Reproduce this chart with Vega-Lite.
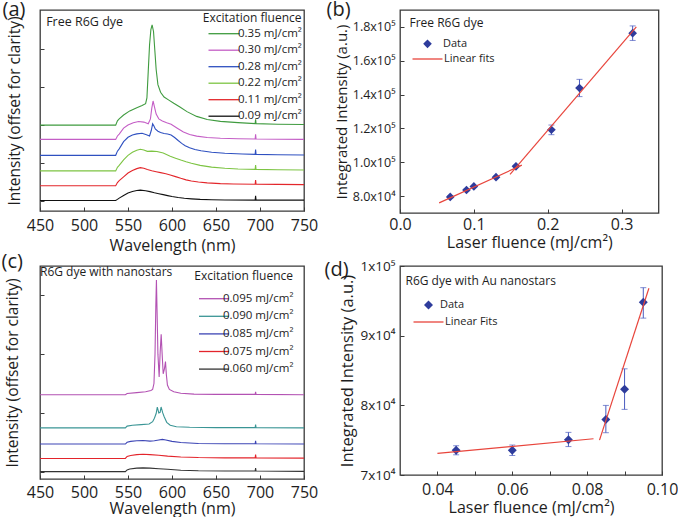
{
"$schema": "https://vega.github.io/schema/vega-lite/v6.json",
"padding": {"left": 0, "top": -2, "right": 0, "bottom": 0},
"config": {
  "font": "Open Sans",
  "view": {"stroke": "#3a3a3a", "strokeWidth": 1.3},
  "axis": {"domain": false, "grid": false, "tickSize": -4, "tickColor": "#3a3a3a", "tickWidth": 1, "labelColor": "#1e1e1e", "titleColor": "#1e1e1e", "titleFontWeight": "normal", "labelFlush": false, "labelOverlap": false},
  "legend": {"padding": 0, "titleFontWeight": "normal", "titleColor": "#1e1e1e", "labelColor": "#1e1e1e"},
  "title": {"fontWeight": "normal", "color": "#1e1e1e"}
},
"datasets": {
  "specA": [
    {"s":"0.35 mJ/cm²","w":450,"v":3.97},{"s":"0.35 mJ/cm²","w":500,"v":3.97},{"s":"0.35 mJ/cm²","w":536,"v":3.97},{"s":"0.35 mJ/cm²","w":538,"v":4.2},{"s":"0.35 mJ/cm²","w":540,"v":4.3},{"s":"0.35 mJ/cm²","w":545,"v":4.5},{"s":"0.35 mJ/cm²","w":552,"v":4.72},{"s":"0.35 mJ/cm²","w":560,"v":4.89},{"s":"0.35 mJ/cm²","w":566,"v":5.0},{"s":"0.35 mJ/cm²","w":570,"v":5.1},{"s":"0.35 mJ/cm²","w":571.5,"v":5.4},{"s":"0.35 mJ/cm²","w":573,"v":6.8},{"s":"0.35 mJ/cm²","w":574.5,"v":8.2},{"s":"0.35 mJ/cm²","w":576,"v":9.0},{"s":"0.35 mJ/cm²","w":577.4,"v":9.25},{"s":"0.35 mJ/cm²","w":579,"v":8.9},{"s":"0.35 mJ/cm²","w":580.5,"v":7.9},{"s":"0.35 mJ/cm²","w":582,"v":6.9},{"s":"0.35 mJ/cm²","w":584,"v":6.1},{"s":"0.35 mJ/cm²","w":587,"v":5.7},{"s":"0.35 mJ/cm²","w":591,"v":5.45},{"s":"0.35 mJ/cm²","w":596,"v":5.3},{"s":"0.35 mJ/cm²","w":602,"v":5.12},{"s":"0.35 mJ/cm²","w":609,"v":4.92},{"s":"0.35 mJ/cm²","w":617,"v":4.68},{"s":"0.35 mJ/cm²","w":628,"v":4.43},{"s":"0.35 mJ/cm²","w":640,"v":4.27},{"s":"0.35 mJ/cm²","w":655,"v":4.17},{"s":"0.35 mJ/cm²","w":675,"v":4.1},{"s":"0.35 mJ/cm²","w":694.5,"v":4.05},{"s":"0.35 mJ/cm²","w":695,"v":4.28},{"s":"0.35 mJ/cm²","w":695.5,"v":4.05},{"s":"0.35 mJ/cm²","w":720,"v":4.02},{"s":"0.35 mJ/cm²","w":750,"v":4.0},
    {"s":"0.30 mJ/cm²","w":450,"v":3.22},{"s":"0.30 mJ/cm²","w":500,"v":3.22},{"s":"0.30 mJ/cm²","w":536,"v":3.22},{"s":"0.30 mJ/cm²","w":538,"v":3.4},{"s":"0.30 mJ/cm²","w":540,"v":3.5},{"s":"0.30 mJ/cm²","w":545,"v":3.81},{"s":"0.30 mJ/cm²","w":550,"v":3.98},{"s":"0.30 mJ/cm²","w":556,"v":4.1},{"s":"0.30 mJ/cm²","w":562,"v":4.16},{"s":"0.30 mJ/cm²","w":568,"v":4.13},{"s":"0.30 mJ/cm²","w":573,"v":4.04},{"s":"0.30 mJ/cm²","w":575.5,"v":4.3},{"s":"0.30 mJ/cm²","w":577,"v":4.85},{"s":"0.30 mJ/cm²","w":578.5,"v":5.24},{"s":"0.30 mJ/cm²","w":580,"v":4.95},{"s":"0.30 mJ/cm²","w":582,"v":4.55},{"s":"0.30 mJ/cm²","w":585,"v":4.3},{"s":"0.30 mJ/cm²","w":589,"v":4.19},{"s":"0.30 mJ/cm²","w":594,"v":4.1},{"s":"0.30 mJ/cm²","w":599,"v":4.02},{"s":"0.30 mJ/cm²","w":606,"v":3.81},{"s":"0.30 mJ/cm²","w":613,"v":3.61},{"s":"0.30 mJ/cm²","w":620,"v":3.48},{"s":"0.30 mJ/cm²","w":628,"v":3.39},{"s":"0.30 mJ/cm²","w":640,"v":3.32},{"s":"0.30 mJ/cm²","w":655,"v":3.28},{"s":"0.30 mJ/cm²","w":675,"v":3.25},{"s":"0.30 mJ/cm²","w":694.5,"v":3.24},{"s":"0.30 mJ/cm²","w":695,"v":3.49},{"s":"0.30 mJ/cm²","w":695.5,"v":3.24},{"s":"0.30 mJ/cm²","w":720,"v":3.23},{"s":"0.30 mJ/cm²","w":750,"v":3.22},
    {"s":"0.28 mJ/cm²","w":450,"v":2.38},{"s":"0.28 mJ/cm²","w":500,"v":2.38},{"s":"0.28 mJ/cm²","w":536,"v":2.38},{"s":"0.28 mJ/cm²","w":538,"v":2.6},{"s":"0.28 mJ/cm²","w":540,"v":2.72},{"s":"0.28 mJ/cm²","w":545,"v":3.1},{"s":"0.28 mJ/cm²","w":550,"v":3.33},{"s":"0.28 mJ/cm²","w":555,"v":3.45},{"s":"0.28 mJ/cm²","w":560,"v":3.51},{"s":"0.28 mJ/cm²","w":566,"v":3.54},{"s":"0.28 mJ/cm²","w":571,"v":3.46},{"s":"0.28 mJ/cm²","w":574.5,"v":3.4},{"s":"0.28 mJ/cm²","w":576.5,"v":3.7},{"s":"0.28 mJ/cm²","w":578,"v":4.04},{"s":"0.28 mJ/cm²","w":579.5,"v":3.92},{"s":"0.28 mJ/cm²","w":581,"v":3.77},{"s":"0.28 mJ/cm²","w":584,"v":3.65},{"s":"0.28 mJ/cm²","w":587,"v":3.58},{"s":"0.28 mJ/cm²","w":591,"v":3.53},{"s":"0.28 mJ/cm²","w":595,"v":3.5},{"s":"0.28 mJ/cm²","w":599,"v":3.45},{"s":"0.28 mJ/cm²","w":603,"v":3.32},{"s":"0.28 mJ/cm²","w":607,"v":3.16},{"s":"0.28 mJ/cm²","w":611,"v":3.01},{"s":"0.28 mJ/cm²","w":615,"v":2.89},{"s":"0.28 mJ/cm²","w":620,"v":2.78},{"s":"0.28 mJ/cm²","w":626,"v":2.69},{"s":"0.28 mJ/cm²","w":633,"v":2.62},{"s":"0.28 mJ/cm²","w":645,"v":2.54},{"s":"0.28 mJ/cm²","w":660,"v":2.49},{"s":"0.28 mJ/cm²","w":680,"v":2.45},{"s":"0.28 mJ/cm²","w":694.5,"v":2.43},{"s":"0.28 mJ/cm²","w":695,"v":2.68},{"s":"0.28 mJ/cm²","w":695.5,"v":2.43},{"s":"0.28 mJ/cm²","w":720,"v":2.41},{"s":"0.28 mJ/cm²","w":750,"v":2.4},
    {"s":"0.22 mJ/cm²","w":450,"v":1.56},{"s":"0.22 mJ/cm²","w":500,"v":1.56},{"s":"0.22 mJ/cm²","w":536,"v":1.56},{"s":"0.22 mJ/cm²","w":538,"v":1.75},{"s":"0.22 mJ/cm²","w":540,"v":1.85},{"s":"0.22 mJ/cm²","w":545,"v":2.14},{"s":"0.22 mJ/cm²","w":550,"v":2.38},{"s":"0.22 mJ/cm²","w":555,"v":2.54},{"s":"0.22 mJ/cm²","w":560,"v":2.65},{"s":"0.22 mJ/cm²","w":564,"v":2.7},{"s":"0.22 mJ/cm²","w":568,"v":2.66},{"s":"0.22 mJ/cm²","w":572,"v":2.59},{"s":"0.22 mJ/cm²","w":577,"v":2.6},{"s":"0.22 mJ/cm²","w":583,"v":2.58},{"s":"0.22 mJ/cm²","w":590,"v":2.5},{"s":"0.22 mJ/cm²","w":598,"v":2.33},{"s":"0.22 mJ/cm²","w":604,"v":2.23},{"s":"0.22 mJ/cm²","w":610,"v":2.13},{"s":"0.22 mJ/cm²","w":616,"v":2.04},{"s":"0.22 mJ/cm²","w":622,"v":1.96},{"s":"0.22 mJ/cm²","w":632,"v":1.85},{"s":"0.22 mJ/cm²","w":645,"v":1.76},{"s":"0.22 mJ/cm²","w":660,"v":1.7},{"s":"0.22 mJ/cm²","w":675,"v":1.66},{"s":"0.22 mJ/cm²","w":694.5,"v":1.64},{"s":"0.22 mJ/cm²","w":695,"v":1.87},{"s":"0.22 mJ/cm²","w":695.5,"v":1.64},{"s":"0.22 mJ/cm²","w":720,"v":1.62},{"s":"0.22 mJ/cm²","w":750,"v":1.61},
    {"s":"0.11 mJ/cm²","w":450,"v":0.78},{"s":"0.11 mJ/cm²","w":500,"v":0.78},{"s":"0.11 mJ/cm²","w":536,"v":0.78},{"s":"0.11 mJ/cm²","w":538,"v":0.95},{"s":"0.11 mJ/cm²","w":540,"v":1.05},{"s":"0.11 mJ/cm²","w":545,"v":1.25},{"s":"0.11 mJ/cm²","w":550,"v":1.45},{"s":"0.11 mJ/cm²","w":555,"v":1.58},{"s":"0.11 mJ/cm²","w":560,"v":1.68},{"s":"0.11 mJ/cm²","w":564,"v":1.73},{"s":"0.11 mJ/cm²","w":568,"v":1.7},{"s":"0.11 mJ/cm²","w":572,"v":1.63},{"s":"0.11 mJ/cm²","w":577,"v":1.57},{"s":"0.11 mJ/cm²","w":582,"v":1.52},{"s":"0.11 mJ/cm²","w":587,"v":1.47},{"s":"0.11 mJ/cm²","w":593,"v":1.41},{"s":"0.11 mJ/cm²","w":598,"v":1.35},{"s":"0.11 mJ/cm²","w":604,"v":1.26},{"s":"0.11 mJ/cm²","w":610,"v":1.17},{"s":"0.11 mJ/cm²","w":616,"v":1.09},{"s":"0.11 mJ/cm²","w":622,"v":1.03},{"s":"0.11 mJ/cm²","w":630,"v":0.98},{"s":"0.11 mJ/cm²","w":640,"v":0.93},{"s":"0.11 mJ/cm²","w":655,"v":0.89},{"s":"0.11 mJ/cm²","w":670,"v":0.87},{"s":"0.11 mJ/cm²","w":694.5,"v":0.86},{"s":"0.11 mJ/cm²","w":695,"v":1.08},{"s":"0.11 mJ/cm²","w":695.5,"v":0.86},{"s":"0.11 mJ/cm²","w":720,"v":0.85},{"s":"0.11 mJ/cm²","w":750,"v":0.84},
    {"s":"0.09 mJ/cm²","w":450,"v":0},{"s":"0.09 mJ/cm²","w":500,"v":0},{"s":"0.09 mJ/cm²","w":536,"v":0},{"s":"0.09 mJ/cm²","w":538,"v":0.06},{"s":"0.09 mJ/cm²","w":540,"v":0.13},{"s":"0.09 mJ/cm²","w":545,"v":0.27},{"s":"0.09 mJ/cm²","w":550,"v":0.4},{"s":"0.09 mJ/cm²","w":555,"v":0.48},{"s":"0.09 mJ/cm²","w":560,"v":0.53},{"s":"0.09 mJ/cm²","w":564,"v":0.55},{"s":"0.09 mJ/cm²","w":570,"v":0.52},{"s":"0.09 mJ/cm²","w":575,"v":0.47},{"s":"0.09 mJ/cm²","w":580,"v":0.41},{"s":"0.09 mJ/cm²","w":585,"v":0.36},{"s":"0.09 mJ/cm²","w":590,"v":0.31},{"s":"0.09 mJ/cm²","w":595,"v":0.26},{"s":"0.09 mJ/cm²","w":600,"v":0.21},{"s":"0.09 mJ/cm²","w":607,"v":0.16},{"s":"0.09 mJ/cm²","w":614,"v":0.12},{"s":"0.09 mJ/cm²","w":622,"v":0.09},{"s":"0.09 mJ/cm²","w":632,"v":0.06},{"s":"0.09 mJ/cm²","w":645,"v":0.04},{"s":"0.09 mJ/cm²","w":660,"v":0.03},{"s":"0.09 mJ/cm²","w":694.5,"v":0.02},{"s":"0.09 mJ/cm²","w":695,"v":0.25},{"s":"0.09 mJ/cm²","w":695.5,"v":0.02},{"s":"0.09 mJ/cm²","w":750,"v":0.02}
  ],
  "specC": [
    {"s":"0.095 mJ/cm²","w":450,"v":2.62},{"s":"0.095 mJ/cm²","w":500,"v":2.62},{"s":"0.095 mJ/cm²","w":547,"v":2.62},{"s":"0.095 mJ/cm²","w":549,"v":2.66},{"s":"0.095 mJ/cm²","w":560,"v":2.69},{"s":"0.095 mJ/cm²","w":570,"v":2.72},{"s":"0.095 mJ/cm²","w":576,"v":2.76},{"s":"0.095 mJ/cm²","w":578,"v":2.8},{"s":"0.095 mJ/cm²","w":579.5,"v":3.0},{"s":"0.095 mJ/cm²","w":580.7,"v":4.0},{"s":"0.095 mJ/cm²","w":581.6,"v":5.6},{"s":"0.095 mJ/cm²","w":582.3,"v":6.52},{"s":"0.095 mJ/cm²","w":583,"v":5.5},{"s":"0.095 mJ/cm²","w":584,"v":4.0},{"s":"0.095 mJ/cm²","w":585.4,"v":3.22},{"s":"0.095 mJ/cm²","w":586.6,"v":4.1},{"s":"0.095 mJ/cm²","w":587.7,"v":4.68},{"s":"0.095 mJ/cm²","w":588.8,"v":4.0},{"s":"0.095 mJ/cm²","w":590,"v":3.33},{"s":"0.095 mJ/cm²","w":591.4,"v":3.5},{"s":"0.095 mJ/cm²","w":592.6,"v":3.75},{"s":"0.095 mJ/cm²","w":593.6,"v":3.3},{"s":"0.095 mJ/cm²","w":594.8,"v":2.95},{"s":"0.095 mJ/cm²","w":597,"v":2.8},{"s":"0.095 mJ/cm²","w":602,"v":2.72},{"s":"0.095 mJ/cm²","w":610,"v":2.67},{"s":"0.095 mJ/cm²","w":625,"v":2.64},{"s":"0.095 mJ/cm²","w":650,"v":2.63},{"s":"0.095 mJ/cm²","w":694.5,"v":2.63},{"s":"0.095 mJ/cm²","w":695,"v":2.72},{"s":"0.095 mJ/cm²","w":695.5,"v":2.63},{"s":"0.095 mJ/cm²","w":750,"v":2.62},
    {"s":"0.090 mJ/cm²","w":450,"v":1.49},{"s":"0.090 mJ/cm²","w":500,"v":1.49},{"s":"0.090 mJ/cm²","w":547,"v":1.49},{"s":"0.090 mJ/cm²","w":549,"v":1.55},{"s":"0.090 mJ/cm²","w":555,"v":1.58},{"s":"0.090 mJ/cm²","w":565,"v":1.6},{"s":"0.090 mJ/cm²","w":574,"v":1.62},{"s":"0.090 mJ/cm²","w":578,"v":1.7},{"s":"0.090 mJ/cm²","w":580,"v":1.82},{"s":"0.090 mJ/cm²","w":582,"v":1.98},{"s":"0.090 mJ/cm²","w":583.3,"v":2.2},{"s":"0.090 mJ/cm²","w":585,"v":2.0},{"s":"0.090 mJ/cm²","w":586.5,"v":2.02},{"s":"0.090 mJ/cm²","w":587.6,"v":2.2},{"s":"0.090 mJ/cm²","w":589.5,"v":2.0},{"s":"0.090 mJ/cm²","w":591,"v":1.88},{"s":"0.090 mJ/cm²","w":594,"v":1.68},{"s":"0.090 mJ/cm²","w":598,"v":1.58},{"s":"0.090 mJ/cm²","w":605,"v":1.53},{"s":"0.090 mJ/cm²","w":620,"v":1.51},{"s":"0.090 mJ/cm²","w":650,"v":1.5},{"s":"0.090 mJ/cm²","w":694.5,"v":1.5},{"s":"0.090 mJ/cm²","w":695,"v":1.6},{"s":"0.090 mJ/cm²","w":695.5,"v":1.5},{"s":"0.090 mJ/cm²","w":750,"v":1.49},
    {"s":"0.085 mJ/cm²","w":450,"v":0.94},{"s":"0.085 mJ/cm²","w":500,"v":0.94},{"s":"0.085 mJ/cm²","w":547,"v":0.94},{"s":"0.085 mJ/cm²","w":549,"v":1.0},{"s":"0.085 mJ/cm²","w":553,"v":1.03},{"s":"0.085 mJ/cm²","w":560,"v":1.05},{"s":"0.085 mJ/cm²","w":567,"v":1.06},{"s":"0.085 mJ/cm²","w":575,"v":1.04},{"s":"0.085 mJ/cm²","w":580,"v":1.05},{"s":"0.085 mJ/cm²","w":585,"v":1.08},{"s":"0.085 mJ/cm²","w":589,"v":1.1},{"s":"0.085 mJ/cm²","w":593,"v":1.08},{"s":"0.085 mJ/cm²","w":600,"v":1.03},{"s":"0.085 mJ/cm²","w":610,"v":0.99},{"s":"0.085 mJ/cm²","w":630,"v":0.96},{"s":"0.085 mJ/cm²","w":660,"v":0.95},{"s":"0.085 mJ/cm²","w":694.5,"v":0.95},{"s":"0.085 mJ/cm²","w":695,"v":1.05},{"s":"0.085 mJ/cm²","w":695.5,"v":0.95},{"s":"0.085 mJ/cm²","w":750,"v":0.94},
    {"s":"0.075 mJ/cm²","w":450,"v":0.45},{"s":"0.075 mJ/cm²","w":500,"v":0.45},{"s":"0.075 mJ/cm²","w":547,"v":0.45},{"s":"0.075 mJ/cm²","w":549,"v":0.52},{"s":"0.075 mJ/cm²","w":553,"v":0.55},{"s":"0.075 mJ/cm²","w":560,"v":0.58},{"s":"0.075 mJ/cm²","w":567,"v":0.59},{"s":"0.075 mJ/cm²","w":575,"v":0.58},{"s":"0.075 mJ/cm²","w":585,"v":0.56},{"s":"0.075 mJ/cm²","w":595,"v":0.53},{"s":"0.075 mJ/cm²","w":610,"v":0.5},{"s":"0.075 mJ/cm²","w":630,"v":0.48},{"s":"0.075 mJ/cm²","w":660,"v":0.47},{"s":"0.075 mJ/cm²","w":694.5,"v":0.47},{"s":"0.075 mJ/cm²","w":695,"v":0.58},{"s":"0.075 mJ/cm²","w":695.5,"v":0.47},{"s":"0.075 mJ/cm²","w":750,"v":0.46},
    {"s":"0.060 mJ/cm²","w":450,"v":0},{"s":"0.060 mJ/cm²","w":500,"v":0},{"s":"0.060 mJ/cm²","w":547,"v":0},{"s":"0.060 mJ/cm²","w":549,"v":0.06},{"s":"0.060 mJ/cm²","w":552,"v":0.09},{"s":"0.060 mJ/cm²","w":560,"v":0.12},{"s":"0.060 mJ/cm²","w":567,"v":0.13},{"s":"0.060 mJ/cm²","w":575,"v":0.12},{"s":"0.060 mJ/cm²","w":585,"v":0.1},{"s":"0.060 mJ/cm²","w":595,"v":0.08},{"s":"0.060 mJ/cm²","w":610,"v":0.05},{"s":"0.060 mJ/cm²","w":630,"v":0.03},{"s":"0.060 mJ/cm²","w":660,"v":0.02},{"s":"0.060 mJ/cm²","w":694.5,"v":0.02},{"s":"0.060 mJ/cm²","w":695,"v":0.12},{"s":"0.060 mJ/cm²","w":695.5,"v":0.02},{"s":"0.060 mJ/cm²","w":750,"v":0.01}
  ],
  "ptsB": [
    {"x":0.068,"y":79500,"lo":78900,"hi":80100,"series":"Data"},
    {"x":0.090,"y":83600,"lo":83000,"hi":84200,"series":"Data"},
    {"x":0.100,"y":85700,"lo":85100,"hi":86300,"series":"Data"},
    {"x":0.130,"y":91200,"lo":90600,"hi":91800,"series":"Data"},
    {"x":0.157,"y":97600,"lo":97000,"hi":98200,"series":"Data"},
    {"x":0.205,"y":119200,"lo":116300,"hi":122000,"series":"Data"},
    {"x":0.243,"y":143900,"lo":138800,"hi":149000,"series":"Data"},
    {"x":0.315,"y":176300,"lo":172000,"hi":180600,"series":"Data"}
  ],
  "fitB": [
    {"fit":1,"x":0.053,"y":76000,"series":"Linear fits"},{"fit":1,"x":0.165,"y":98300,"series":"Linear fits"},
    {"fit":2,"x":0.149,"y":92800,"series":"Linear fits"},{"fit":2,"x":0.320,"y":180000,"series":"Linear fits"}
  ],
  "ptsD": [
    {"x":0.045,"y":73540,"lo":72900,"hi":74200,"series":"Data"},
    {"x":0.060,"y":73540,"lo":72800,"hi":74300,"series":"Data"},
    {"x":0.075,"y":75050,"lo":74080,"hi":76120,"series":"Data"},
    {"x":0.085,"y":77960,"lo":76070,"hi":79990,"series":"Data"},
    {"x":0.090,"y":82300,"lo":79420,"hi":85240,"series":"Data"},
    {"x":0.095,"y":94800,"lo":92520,"hi":96890,"series":"Data"}
  ],
  "fitD": [
    {"fit":1,"x":0.040,"y":73100,"series":"Linear Fits"},{"fit":1,"x":0.0817,"y":75200,"series":"Linear Fits"},
    {"fit":2,"x":0.0833,"y":75000,"series":"Linear Fits"},{"fit":2,"x":0.0965,"y":96800,"series":"Linear Fits"}
  ]
},
"columns": 2,
"bounds": "flush",
"align": "each",
"spacing": {"row": 53, "column": 96},
"resolve": {"scale": {"color": "independent", "fill": "independent", "stroke": "independent", "x": "independent", "y": "independent"}, "legend": {"color": "independent", "fill": "independent", "stroke": "independent"}},
"concat": [
  {
    "width": 264, "height": 201,
    "title": {"text": "(a)", "fontSize": 20, "anchor": "start", "frame": "group", "offset": 0, "baseline": "top", "dx": -37.5, "dy": 9.5},
    "layer": [
      {"data": {"name": "specA"},
       "mark": {"type": "line", "strokeWidth": 1.1, "clip": true},
       "encoding": {
         "x": {"field": "w", "type": "quantitative", "scale": {"domain": [450, 750], "nice": false, "zero": false},
               "axis": {"title": "Wavelength (nm)", "values": [450,475,500,525,550,575,600,625,650,675,700,725,750], "labelExpr": "datum.value % 50 == 0 ? datum.label : ''", "labelOverlap": false, "labelFontSize": 16, "titleFontSize": 16, "labelPadding": 10, "titlePadding": 4}},
         "y": {"field": "v", "type": "quantitative", "scale": {"domain": [-0.55, 10.03], "nice": false, "zero": false},
               "axis": {"title": "Intensity (offset for clarity)", "labels": false, "values": [0,1,2,3,4,5,6,7,8,9], "titleFontSize": 15.5, "titlePadding": 17}},
         "color": {"field": "s", "type": "nominal",
                   "scale": {"domain": ["0.35 mJ/cm²","0.30 mJ/cm²","0.28 mJ/cm²","0.22 mJ/cm²","0.11 mJ/cm²","0.09 mJ/cm²"], "range": ["#3f9b3f","#c45ec6","#2e50c0","#7dc443","#e3262b","#111111"]},
                   "legend": {"title": "Excitation fluence", "orient": "none", "legendX": 162.5, "legendY": 3.3, "titleAnchor": "end", "symbolType": "M-3.1,0H3.1", "symbolSize": 100, "symbolStrokeWidth": 1.3, "symbolOffset": 9.5, "labelOffset": 8, "labelFontSize": 11.5, "titleFontSize": 12, "titlePadding": 2.4, "rowPadding": 4.5}}
       }},
      {"data": {"values": [{}]},
       "mark": {"type": "text", "align": "left", "baseline": "top", "fontSize": 12.5, "color": "#1e1e1e"},
       "encoding": {"x": {"datum": 457}, "y": {"datum": 9.69}, "text": {"value": "Free R6G dye"}}}
    ]
  },
  {
    "width": 258.5, "height": 203,
    "title": {"text": "(b)", "fontSize": 20, "anchor": "start", "frame": "group", "offset": 0, "baseline": "top", "dx": -73.5, "dy": 9.5},
    "layer": [
      {"data": {"name": "ptsB"},
       "mark": {"type": "errorbar", "ticks": {"size": 6}, "color": "#4a5bbf", "thickness": 1},
       "encoding": {
         "x": {"field": "x", "type": "quantitative", "scale": {"domain": [0, 0.35], "nice": false, "zero": false},
               "axis": {"title": "Laser fluence (mJ/cm²)", "values": [0,0.05,0.1,0.15,0.2,0.25,0.3,0.35], "labelExpr": "round(datum.value*100) % 10 == 0 ? format(datum.value, '.1f') : ''", "labelOverlap": false, "labelFontSize": 16, "titleFontSize": 16, "labelPadding": 7, "titlePadding": 2}},
         "y": {"field": "lo", "type": "quantitative", "scale": {"domain": [70000, 190000], "nice": false, "zero": false},
               "axis": {"title": "Integrated Intensity (a.u.)", "values": [80000,90000,100000,110000,120000,130000,140000,150000,160000,170000,180000,190000], "labelExpr": "datum.value == 80000 ? '8.0x10⁴' : datum.value == 100000 ? '1.0x10⁵' : datum.value == 120000 ? '1.2x10⁵' : datum.value == 140000 ? '1.4x10⁵' : datum.value == 160000 ? '1.6x10⁵' : datum.value == 180000 ? '1.8x10⁵' : ''", "labelOverlap": false, "labelFontSize": 12.5, "titleFontSize": 15, "labelPadding": 9, "titlePadding": 3}},
         "y2": {"field": "hi"}
       }},
      {"data": {"name": "ptsB"},
       "mark": {"type": "point", "shape": "diamond", "filled": true, "size": 75, "opacity": 1},
       "encoding": {
         "x": {"field": "x", "type": "quantitative", "scale": {"domain": [0, 0.35], "nice": false, "zero": false},
               "axis": {"title": "Laser fluence (mJ/cm²)", "values": [0,0.05,0.1,0.15,0.2,0.25,0.3,0.35], "labelExpr": "round(datum.value*100) % 10 == 0 ? format(datum.value, '.1f') : ''", "labelOverlap": false, "labelFontSize": 16, "titleFontSize": 16, "labelPadding": 7, "titlePadding": 2}},
         "y": {"field": "y", "type": "quantitative", "scale": {"domain": [70000, 190000], "nice": false, "zero": false},
               "axis": {"title": "Integrated Intensity (a.u.)", "values": [80000,90000,100000,110000,120000,130000,140000,150000,160000,170000,180000,190000], "labelExpr": "datum.value == 80000 ? '8.0x10⁴' : datum.value == 100000 ? '1.0x10⁵' : datum.value == 120000 ? '1.2x10⁵' : datum.value == 140000 ? '1.4x10⁵' : datum.value == 160000 ? '1.6x10⁵' : datum.value == 180000 ? '1.8x10⁵' : ''", "labelOverlap": false, "labelFontSize": 12.5, "titleFontSize": 15, "labelPadding": 9, "titlePadding": 3}},
         "fill": {"field": "series", "type": "nominal", "scale": {"domain": ["Data"], "range": ["#2e3c9c"]},
                  "legend": {"title": "Free R6G dye", "orient": "none", "legendX": 9.5, "legendY": 7.5, "symbolType": "diamond", "symbolSize": 75, "symbolStrokeWidth": 0, "symbolOffset": 12.5, "labelOffset": 10, "labelFontSize": 11, "titleFontSize": 12, "titlePadding": 8.8}}
       }},
      {"data": {"name": "fitB"},
       "mark": {"type": "line", "strokeWidth": 1.2},
       "encoding": {
         "x": {"field": "x", "type": "quantitative", "scale": {"domain": [0, 0.35], "nice": false, "zero": false}},
         "y": {"field": "y", "type": "quantitative", "scale": {"domain": [70000, 190000], "nice": false, "zero": false}},
         "detail": {"field": "fit", "type": "nominal"},
         "stroke": {"field": "series", "type": "nominal", "scale": {"domain": ["Linear fits"], "range": ["#e8453c"]},
                    "legend": {"title": null, "orient": "none", "legendX": 12.5, "legendY": 43, "symbolType": "M-3,0H3", "symbolSize": 100, "symbolStrokeWidth": 1.3, "symbolOffset": 9, "labelOffset": 10.5, "labelFontSize": 11}}
       }}
    ]
  },
  {
    "width": 264, "height": 213,
    "title": {"text": "(c)", "fontSize": 20, "anchor": "start", "frame": "group", "offset": 0, "baseline": "top", "dx": -38.5, "dy": 6},
    "layer": [
      {"data": {"name": "specC"},
       "mark": {"type": "line", "strokeWidth": 1.1, "clip": true},
       "encoding": {
         "x": {"field": "w", "type": "quantitative", "scale": {"domain": [450, 750], "nice": false, "zero": false},
               "axis": {"title": "Wavelength (nm)", "values": [450,475,500,525,550,575,600,625,650,675,700,725,750], "labelExpr": "datum.value % 50 == 0 ? datum.label : ''", "labelOverlap": false, "labelFontSize": 16, "titleFontSize": 16, "labelPadding": 9, "titlePadding": 0}},
         "y": {"field": "v", "type": "quantitative", "scale": {"domain": [-0.25, 7.0], "nice": false, "zero": false},
               "axis": {"title": "Intensity (offset for clarity)", "labels": false, "values": [0,1,2,3,4,5,6], "titleFontSize": 15.5, "titlePadding": 19}},
         "color": {"field": "s", "type": "nominal",
                   "scale": {"domain": ["0.095 mJ/cm²","0.090 mJ/cm²","0.085 mJ/cm²","0.075 mJ/cm²","0.060 mJ/cm²"], "range": ["#b352b3","#3a9595","#3c45b5","#e3242b","#333333"]},
                   "legend": {"title": "Excitation fluence", "orient": "none", "legendX": 154, "legendY": 5, "titleAnchor": "end", "symbolType": "M-3.0,0H3.0", "symbolSize": 100, "symbolStrokeWidth": 1.3, "symbolOffset": 9, "labelOffset": 3, "labelFontSize": 11.5, "titleFontSize": 12, "titlePadding": 9.7, "rowPadding": 5.6}}
       }},
      {"data": {"values": [{}]},
       "mark": {"type": "text", "align": "left", "baseline": "top", "fontSize": 12, "color": "#1e1e1e"},
       "encoding": {"x": {"datum": 450}, "y": {"datum": 6.98}, "text": {"value": "R6G dye with nanostars"}}}
    ]
  },
  {
    "width": 262, "height": 209,
    "title": {"text": "(d)", "fontSize": 20, "anchor": "start", "frame": "group", "offset": 0, "baseline": "top", "dx": -75.5, "dy": 21},
    "layer": [
      {"data": {"name": "ptsD"},
       "mark": {"type": "errorbar", "ticks": {"size": 6}, "color": "#4a5bbf", "thickness": 1},
       "encoding": {
         "x": {"field": "x", "type": "quantitative", "scale": {"domain": [0.03, 0.1], "nice": false, "zero": false},
               "axis": {"title": "Laser fluence (mJ/cm²)", "values": [0.04,0.05,0.06,0.07,0.08,0.09,0.1], "labelExpr": "round(datum.value*100) % 2 == 0 ? format(datum.value, '.2f') : ''", "labelOverlap": false, "labelFontSize": 16, "titleFontSize": 16, "labelPadding": 10, "titlePadding": 2}},
         "y": {"field": "lo", "type": "quantitative", "scale": {"domain": [70000, 100000], "nice": false, "zero": false},
               "axis": {"title": "Integrated Intensity (a.u.)", "values": [70000,75000,80000,85000,90000,95000,100000], "labelExpr": "round(datum.value/5000) % 2 == 0 ? (datum.value >= 100000 ? '1x10⁵' : format(datum.value/10000, 'd') + 'x10⁴') : ''", "labelOverlap": false, "labelFontSize": 13.5, "titleFontSize": 16.5, "labelPadding": 9, "titlePadding": 5}},
         "y2": {"field": "hi"}
       }},
      {"data": {"name": "ptsD"},
       "mark": {"type": "point", "shape": "diamond", "filled": true, "size": 80, "opacity": 1},
       "encoding": {
         "x": {"field": "x", "type": "quantitative", "scale": {"domain": [0.03, 0.1], "nice": false, "zero": false},
               "axis": {"title": "Laser fluence (mJ/cm²)", "values": [0.04,0.05,0.06,0.07,0.08,0.09,0.1], "labelExpr": "round(datum.value*100) % 2 == 0 ? format(datum.value, '.2f') : ''", "labelOverlap": false, "labelFontSize": 16, "titleFontSize": 16, "labelPadding": 10, "titlePadding": 2}},
         "y": {"field": "y", "type": "quantitative", "scale": {"domain": [70000, 100000], "nice": false, "zero": false},
               "axis": {"title": "Integrated Intensity (a.u.)", "values": [70000,75000,80000,85000,90000,95000,100000], "labelExpr": "round(datum.value/5000) % 2 == 0 ? (datum.value >= 100000 ? '1x10⁵' : format(datum.value/10000, 'd') + 'x10⁴') : ''", "labelOverlap": false, "labelFontSize": 13.5, "titleFontSize": 16.5, "labelPadding": 9, "titlePadding": 5}},
         "fill": {"field": "series", "type": "nominal", "scale": {"domain": ["Data"], "range": ["#2e3c9c"]},
                  "legend": {"title": "R6G dye with Au nanostars", "orient": "none", "legendX": 5.5, "legendY": 10, "symbolType": "diamond", "symbolSize": 80, "symbolStrokeWidth": 0, "symbolOffset": 17.5, "labelOffset": 6, "labelFontSize": 11, "titleFontSize": 12, "titlePadding": 11.5}}
       }},
      {"data": {"name": "fitD"},
       "mark": {"type": "line", "strokeWidth": 1.2},
       "encoding": {
         "x": {"field": "x", "type": "quantitative", "scale": {"domain": [0.03, 0.1], "nice": false, "zero": false}},
         "y": {"field": "y", "type": "quantitative", "scale": {"domain": [70000, 100000], "nice": false, "zero": false}},
         "detail": {"field": "fit", "type": "nominal"},
         "stroke": {"field": "series", "type": "nominal", "scale": {"domain": ["Linear Fits"], "range": ["#e8453c"]},
                    "legend": {"title": null, "orient": "none", "legendX": 13.5, "legendY": 50, "symbolType": "M-3,0H3", "symbolSize": 100, "symbolStrokeWidth": 1.3, "symbolOffset": 9, "labelOffset": 10.5, "labelFontSize": 11}}
       }}
    ]
  }
]
}
